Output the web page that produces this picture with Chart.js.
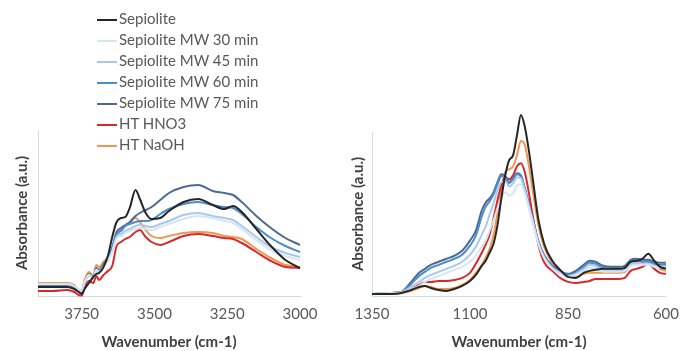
<!DOCTYPE html>
<html>
<head>
<meta charset="utf-8">
<script src="https://cdn.jsdelivr.net/npm/chart.js@4.4.1/dist/chart.umd.min.js"></script>
<style>
  body { margin: 0; background: #fff; }
  #wrap { position: relative; width: 688px; height: 351px; }
  canvas { position: absolute; top: 0; }
  #leftChart { left: 0; }
  #rightChart { left: 335px; }
  #legend { position: absolute; left: 97px; top: 8px; font-family: Lato, sans-serif; font-size: 15px; color: #595959; }
  #legend div { height: 21px; line-height: 21px; white-space: nowrap; }
  #legend span { display: inline-block; width: 20px; height: 2px; margin-right: 2px; vertical-align: middle; }
</style>
</head>
<body>
<div id="wrap">
  <canvas id="leftChart" width="335" height="351"></canvas>
  <canvas id="rightChart" width="353" height="351"></canvas>
  <div id="legend"></div>
</div>
<script>
// Nombres y colores de las series
const seriesNames = ['Sepiolite', 'Sepiolite MW 30 min', 'Sepiolite MW 45 min', 'Sepiolite MW 60 min', 'Sepiolite MW 75 min', 'HT HNO3', 'HT NaOH'];
const seriesColors = ['#262626', '#d6e5f4', '#a9c9ea', '#4d8ccc', '#4b6b92', '#d9282c', '#f0964f'];

// Región OH (cm-1)
const wnHigh = [3900, 3850, 3800, 3775, 3760, 3750, 3740, 3725, 3710, 3700, 3690, 3675, 3660, 3645, 3630, 3615, 3600, 3585, 3565, 3550, 3530, 3510, 3480, 3450, 3400, 3350, 3300, 3260, 3230, 3200, 3150, 3100, 3050, 3000];
const highSep   = [0.045,0.045,0.045,0.035,0.02,0.01,0.035,0.065,0.095,0.11,0.115,0.145,0.2,0.295,0.37,0.39,0.395,0.44,0.53,0.485,0.415,0.385,0.39,0.425,0.47,0.485,0.455,0.435,0.45,0.42,0.335,0.25,0.18,0.14];
const highMW30  = [0.06,0.06,0.06,0.05,0.03,0.025,0.07,0.105,0.09,0.13,0.12,0.145,0.175,0.22,0.29,0.3,0.315,0.325,0.335,0.34,0.335,0.33,0.345,0.36,0.385,0.4,0.39,0.375,0.365,0.335,0.28,0.23,0.2,0.18];
const highMW45  = [0.06,0.06,0.06,0.05,0.03,0.025,0.07,0.105,0.09,0.13,0.12,0.15,0.18,0.225,0.295,0.31,0.325,0.335,0.35,0.355,0.35,0.345,0.36,0.375,0.405,0.415,0.4,0.39,0.38,0.35,0.295,0.245,0.215,0.195];
const highMW60  = [0.055,0.055,0.055,0.045,0.025,0.02,0.065,0.105,0.09,0.135,0.125,0.155,0.185,0.235,0.31,0.325,0.35,0.36,0.37,0.375,0.375,0.38,0.41,0.435,0.46,0.47,0.455,0.445,0.44,0.41,0.345,0.29,0.25,0.22];
const highMW75  = [0.055,0.055,0.055,0.045,0.025,0.02,0.07,0.11,0.095,0.14,0.13,0.16,0.19,0.245,0.32,0.34,0.355,0.37,0.4,0.415,0.43,0.445,0.48,0.515,0.545,0.555,0.525,0.515,0.505,0.47,0.4,0.34,0.29,0.255];
const highHNO3  = [0.025,0.025,0.03,0.02,0.005,0.002,0.04,0.075,0.065,0.1,0.08,0.105,0.125,0.15,0.25,0.27,0.285,0.295,0.32,0.33,0.295,0.27,0.255,0.27,0.3,0.31,0.3,0.29,0.285,0.265,0.22,0.175,0.145,0.14];
const highNaOH  = [0.065,0.065,0.065,0.055,0.03,0.025,0.08,0.12,0.1,0.155,0.145,0.17,0.195,0.23,0.3,0.33,0.35,0.365,0.39,0.37,0.33,0.3,0.29,0.3,0.315,0.32,0.315,0.3,0.295,0.285,0.235,0.19,0.155,0.145];

// Región Si-O (cm-1)
const wnLow = [1350, 1300, 1275, 1250, 1230, 1215, 1200, 1180, 1160, 1140, 1120, 1100, 1085, 1070, 1060, 1050, 1040, 1030, 1020, 1010, 1000, 990, 980, 970, 960, 950, 940, 925, 910, 890, 870, 850, 830, 810, 795, 780, 760, 740, 720, 705, 690, 675, 660, 645, 630, 615, 600];
const lowSep   = [0.01,0.01,0.015,0.03,0.045,0.05,0.04,0.03,0.025,0.035,0.05,0.075,0.105,0.15,0.175,0.215,0.26,0.35,0.485,0.6,0.675,0.7,0.8,0.9,0.84,0.725,0.585,0.375,0.255,0.175,0.13,0.095,0.09,0.115,0.125,0.13,0.135,0.135,0.135,0.14,0.17,0.175,0.185,0.21,0.175,0.145,0.135];
const lowMW30  = [0.01,0.015,0.015,0.035,0.05,0.07,0.085,0.1,0.115,0.13,0.145,0.17,0.2,0.245,0.275,0.325,0.375,0.435,0.485,0.515,0.5,0.51,0.55,0.555,0.51,0.44,0.365,0.255,0.185,0.135,0.11,0.095,0.105,0.125,0.14,0.135,0.12,0.12,0.12,0.125,0.15,0.155,0.155,0.155,0.145,0.14,0.14];
const lowMW45  = [0.01,0.015,0.02,0.045,0.07,0.09,0.105,0.12,0.135,0.15,0.17,0.205,0.245,0.305,0.345,0.405,0.46,0.525,0.565,0.57,0.545,0.56,0.59,0.585,0.525,0.45,0.375,0.26,0.19,0.14,0.115,0.1,0.11,0.135,0.155,0.15,0.13,0.125,0.125,0.13,0.16,0.165,0.16,0.16,0.15,0.145,0.145];
const lowMW60  = [0.01,0.015,0.02,0.06,0.1,0.12,0.14,0.155,0.17,0.185,0.205,0.25,0.3,0.395,0.445,0.47,0.505,0.555,0.595,0.59,0.56,0.58,0.605,0.595,0.53,0.455,0.38,0.265,0.195,0.145,0.12,0.105,0.115,0.145,0.165,0.16,0.14,0.135,0.135,0.14,0.17,0.175,0.17,0.17,0.16,0.155,0.155];
const lowMW75  = [0.01,0.015,0.02,0.07,0.115,0.135,0.155,0.17,0.185,0.2,0.225,0.275,0.325,0.425,0.465,0.485,0.515,0.565,0.605,0.595,0.565,0.585,0.61,0.6,0.535,0.46,0.385,0.27,0.2,0.15,0.125,0.11,0.125,0.155,0.175,0.17,0.15,0.145,0.145,0.15,0.18,0.185,0.18,0.18,0.17,0.165,0.165];
const lowHNO3  = [0.01,0.015,0.02,0.035,0.055,0.07,0.07,0.075,0.075,0.08,0.09,0.115,0.16,0.215,0.255,0.305,0.385,0.475,0.55,0.59,0.58,0.6,0.645,0.66,0.615,0.515,0.4,0.25,0.165,0.125,0.09,0.07,0.065,0.07,0.075,0.085,0.085,0.085,0.085,0.09,0.125,0.135,0.145,0.16,0.135,0.115,0.11];
const lowNaOH  = [0.01,0.01,0.015,0.025,0.04,0.05,0.045,0.035,0.035,0.04,0.055,0.08,0.115,0.155,0.19,0.235,0.3,0.41,0.525,0.615,0.63,0.645,0.7,0.77,0.75,0.65,0.525,0.35,0.24,0.165,0.12,0.095,0.095,0.11,0.115,0.115,0.115,0.115,0.115,0.12,0.155,0.16,0.165,0.18,0.16,0.135,0.125];

// Marcas del eje x
const ticksHigh = [3750, 3500, 3250, 3000];
const ticksLow = [1350, 1100, 850, 600];

const highSeries = [highSep, highMW30, highMW45, highMW60, highMW75, highHNO3, highNaOH];
const lowSeries = [lowSep, lowMW30, lowMW45, lowMW60, lowMW75, lowHNO3, lowNaOH];

const textColor = '#595959';
const axisColor = '#d9d9d9';

const makeDatasets = (wn, series) => series.map((vals, i) => ({
    label: seriesNames[i],
    data: vals.map((v, j) => ({ x: wn[j], y: v })),
    borderColor: seriesColors[i],
    backgroundColor: seriesColors[i],
    borderWidth: 2,
    pointRadius: 0,
    cubicInterpolationMode: 'monotone',
    clip: false
}));

function makeChart(id, wn, series, xMin, xMax, tickVals, yMax, pad, yWidth, titlePad) {
    return new Chart(document.getElementById(id).getContext('2d'), {
        type: 'line',
        data: { datasets: makeDatasets(wn, series) },
        options: {
            responsive: false,
            animation: false,
            layout: { padding: pad },
            plugins: { legend: { display: false }, tooltip: { enabled: false } },
            scales: {
                x: {
                    type: 'linear',
                    reverse: true,
                    min: xMin,
                    max: xMax,
                    afterBuildTicks: axis => { axis.ticks = tickVals.map(v => ({ value: v })); },
                    afterFit: axis => { axis.height = 55; },
                    grid: { display: false, drawTicks: false },
                    border: { color: axisColor, width: 1 },
                    ticks: {
                        padding: 9,
                        color: textColor,
                        font: { family: 'Lato', size: 15 },
                        maxRotation: 0,
                        callback: value => String(value)
                    },
                    title: {
                        display: true,
                        text: 'Wavenumber (cm-1)',
                        color: '#404040',
                        font: { family: 'Lato', size: 15, weight: 'bold' },
                        padding: { top: 0, bottom: 0 }
                    }
                },
                y: {
                    min: 0,
                    max: yMax,
                    afterFit: axis => { axis.width = yWidth; },
                    grid: { display: false },
                    border: { color: axisColor, width: 1 },
                    ticks: { display: false },
                    title: {
                        display: true,
                        text: 'Absorbance (a.u.)',
                        color: '#404040',
                        font: { family: 'Lato', size: 15, weight: 'bold' },
                        padding: { top: titlePad, bottom: 0 }
                    }
                }
            }
        }
    });
}

makeChart('leftChart', wnHigh, highSeries, 3000, 3900, ticksHigh, 0.83, { top: 130, right: 35, left: 0, bottom: 0 }, 38, 13);
makeChart('rightChart', wnLow, lowSeries, 600, 1350, ticksLow, 0.815, { top: 132, right: 15, left: 0, bottom: 0 }, 37, 14);

// Leyenda
const legend = document.getElementById('legend');
seriesNames.forEach((name, i) => {
    const row = document.createElement('div');
    const swatch = document.createElement('span');
    swatch.style.background = seriesColors[i];
    row.appendChild(swatch);
    row.appendChild(document.createTextNode(name));
    legend.appendChild(row);
});
</script>
</body>
</html>
